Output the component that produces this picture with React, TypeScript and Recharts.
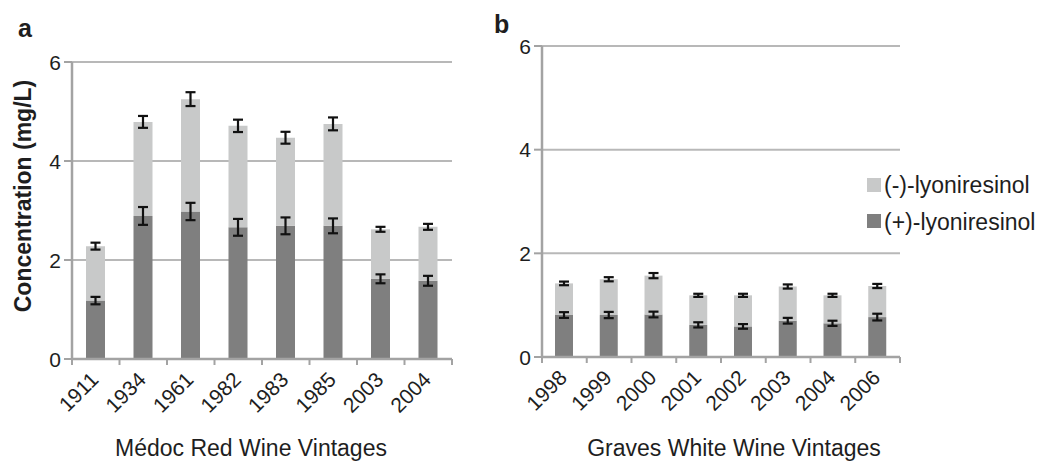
import React from 'react';
import { BarChart, Bar, XAxis, YAxis, CartesianGrid, ErrorBar } from 'recharts';

// ---- data ----
const medocVintages = ['1911', '1934', '1961', '1982', '1983', '1985', '2003', '2004'];
const medocPlus = [1.18, 2.89, 2.98, 2.66, 2.69, 2.69, 1.62, 1.58];
const medocMinus = [1.1, 1.9, 2.27, 2.05, 1.78, 2.06, 1.0, 1.09];
const medocPlusErr = [0.075, 0.18, 0.175, 0.17, 0.17, 0.15, 0.09, 0.1];
const medocMinusErr = [0.07, 0.12, 0.14, 0.125, 0.12, 0.13, 0.05, 0.06];

const gravesVintages = ['1998', '1999', '2000', '2001', '2002', '2003', '2004', '2006'];
const gravesPlus = [0.81, 0.81, 0.82, 0.62, 0.59, 0.7, 0.65, 0.77];
const gravesMinus = [0.61, 0.69, 0.75, 0.57, 0.6, 0.66, 0.54, 0.6];
const gravesPlusErr = [0.055, 0.06, 0.055, 0.05, 0.045, 0.055, 0.05, 0.065];
const gravesMinusErr = [0.035, 0.04, 0.05, 0.03, 0.03, 0.04, 0.03, 0.04];

const yTicks = [0, 2, 4, 6];
const seriesNames = ['(-)-lyoniresinol', '(+)-lyoniresinol'];
const panelLabels = ['a', 'b'];
const yTitle = 'Concentration (mg/L)';
const xTitles = ['Médoc Red Wine Vintages', 'Graves White Wine Vintages'];

// ---- styles ----
const FONT = "'Liberation Sans', Arial, Helvetica, sans-serif";
const DARK = '#7f7f7f';
const LIGHT = '#c8c9c9';
const GRID = '#b8b8b8';
const AXIS = '#a3a3a3';
const TEXT = '#1e1e1e';

const build = (cats: string[], plus: number[], minus: number[], pe: number[], me: number[]) =>
  cats.map((c, i) => ({ vintage: c, plus: plus[i], minus: minus[i], plusErr: pe[i], minusErr: me[i] }));

const medocData = build(medocVintages, medocPlus, medocMinus, medocPlusErr, medocMinusErr);
const gravesData = build(gravesVintages, gravesPlus, gravesMinus, gravesPlusErr, gravesMinusErr);

const YTick = (props: any) => {
  const { x, y, payload } = props;
  return (
    <text x={x} y={y} dy="0.36em" textAnchor="end" fontSize={21} fontFamily={FONT} fill={TEXT}>
      {payload.value}
    </text>
  );
};

const makeXTick = (count: number) => (props: any) => {
  const { x, y, payload, index } = props;
  const half = payload.offset || 0;
  const axisY = y - 8;
  const left = payload.coordinate - half;
  const right = payload.coordinate + half;
  return (
    <g>
      <line x1={left} y1={axisY} x2={left} y2={axisY + 6} stroke={AXIS} strokeWidth={2} />
      {index === count - 1 && (
        <line x1={right} y1={axisY} x2={right} y2={axisY + 6} stroke={AXIS} strokeWidth={2} />
      )}
      <g transform={`translate(${x + 4},${axisY + 22})`}>
        <text transform="rotate(-45)" textAnchor="end" fontSize={21} fontFamily={FONT} fill={TEXT}>
          {payload.value}
        </text>
      </g>
    </g>
  );
};

const Panel = ({ data, width, margin, xHeight, barSize }: any) => (
  <BarChart width={width} height={461} data={data} margin={margin} barSize={barSize}>
    <CartesianGrid vertical={false} stroke={GRID} strokeWidth={2} />
    <XAxis
      dataKey="vintage"
      height={xHeight}
      interval={0}
      tickLine={false}
      tickSize={6}
      tickMargin={2}
      axisLine={{ stroke: AXIS, strokeWidth: 2.5 }}
      tick={makeXTick(data.length)}
    />
    <YAxis
      width={72}
      domain={[0, 6]}
      ticks={yTicks}
      interval={0}
      tickSize={8}
      tickMargin={3}
      axisLine={{ stroke: AXIS, strokeWidth: 2.5 }}
      tickLine={{ stroke: AXIS, strokeWidth: 2 }}
      tick={<YTick />}
    />
    <Bar dataKey="plus" stackId="s" fill={DARK} name={seriesNames[1]} isAnimationActive={false}>
      <ErrorBar dataKey="plusErr" width={5} strokeWidth={2.2} stroke="#111" direction="y" />
    </Bar>
    <Bar dataKey="minus" stackId="s" fill={LIGHT} name={seriesNames[0]} isAnimationActive={false}>
      <ErrorBar dataKey="minusErr" width={5} strokeWidth={2.2} stroke="#111" direction="y" />
    </Bar>
  </BarChart>
);

export default function App() {
  return (
    <div style={{ position: 'absolute', left: 0, top: 0, width: 1043, height: 461, background: '#fff', overflow: 'hidden' }}>
      <div style={{ position: 'absolute', left: 0, top: 0 }}>
        <Panel data={medocData} width={470} margin={{ top: 62, right: 18, left: 0, bottom: 0 }} xHeight={102} barSize={19} />
      </div>
      <div style={{ position: 'absolute', left: 470, top: 0 }}>
        <Panel data={gravesData} width={573} margin={{ top: 46, right: 143, left: 0, bottom: 0 }} xHeight={104} barSize={18} />
      </div>
      <svg width={1043} height={461} style={{ position: 'absolute', left: 0, top: 0, pointerEvents: 'none' }}>
        <text x={18} y={37} fontSize={25} fontWeight="bold" fontFamily={FONT} fill={TEXT}>{panelLabels[0]}</text>
        <text x={494} y={33} fontSize={25} fontWeight="bold" fontFamily={FONT} fill={TEXT}>{panelLabels[1]}</text>
        <text transform="translate(31,196) rotate(-90)" textAnchor="middle" fontSize={23} fontWeight="bold" fontFamily={FONT} fill={TEXT}>
          {yTitle}
        </text>
        <text x={251} y={456} textAnchor="middle" fontSize={23} fontFamily={FONT} fill={TEXT}>{xTitles[0]}</text>
        <text x={734} y={456} textAnchor="middle" fontSize={23} fontFamily={FONT} fill={TEXT}>{xTitles[1]}</text>
        <rect x={867} y={178} width={14} height={14} fill={LIGHT} />
        <text x={884} y={193} fontSize={23} fontFamily={FONT} fill={TEXT}>{seriesNames[0]}</text>
        <rect x={867} y={214} width={14} height={14} fill={DARK} />
        <text x={884} y={229.5} fontSize={23} fontFamily={FONT} fill={TEXT}>{seriesNames[1]}</text>
      </svg>
    </div>
  );
}
